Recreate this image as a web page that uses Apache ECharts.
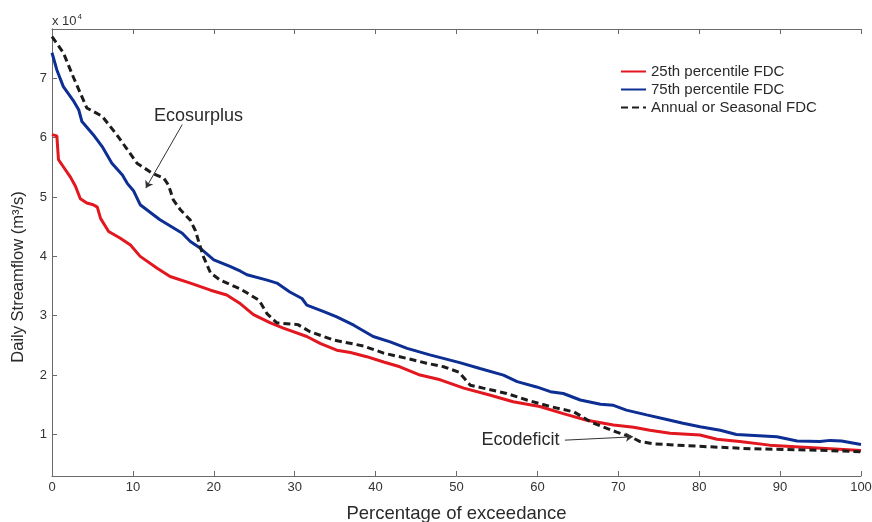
<!DOCTYPE html>
<html>
<head>
<meta charset="utf-8">
<script src="https://cdn.jsdelivr.net/npm/echarts@6/dist/echarts.min.js"></script>
<style>
html,body{margin:0;padding:0;background:#fff;}
#c{width:872px;height:522px;}
</style>
</head>
<body>
<div id="c"></div>
<script>
// ---- data (percentage of exceedance, daily streamflow m3/s) ----
const p25X = [0,0.6,0.8,1.4,2.3,2.9,3.5,4.3,5.1,5.6,6.0,7.0,8.4,9.7,10.9,13.0,14.6,17.1,19.6,21.6,23.3,24.9,27.0,28.6,31.5,33.2,35.2,36.9,38.9,41.0,43.0,45.5,48.0,50.9,54.2,57.0,60.3,63.2,66.1,69.4,71.9,73.9,76.4,80.1,82.2,85.0,88.7,92.4,96.2,100];
const p25Y = [60500,60300,56300,55100,53300,51800,49700,49000,48700,48300,46400,44200,43100,41900,40000,38000,36600,35500,34300,33500,32000,30200,28800,27900,26500,25300,24200,23800,23100,22200,21400,20000,19200,17800,16600,15500,14700,13500,12400,11600,11200,10700,10200,9900,9200,8800,8200,7900,7600,7300];

const p75X = [0,0.6,1.4,2.7,3.3,3.7,5.1,6.2,7.4,8.7,9.3,10.1,10.9,13.3,16.1,17.1,18.3,20.0,22.0,23.3,24.1,26.6,27.8,29.4,30.9,31.5,33.6,35.2,37.3,39.7,41.8,43.9,46.7,50.4,52.9,55.8,57.5,59.9,61.6,63.2,65.3,67.8,69.4,71.0,73.5,76.4,78.0,80.1,82.6,84.6,89.6,92.1,94.9,96.2,97.6,100];
const p75Y = [74300,71400,68600,66100,64700,62700,60500,58500,55700,53700,52300,51000,48700,46200,43900,42500,41400,39400,38300,37500,36900,36000,35500,34000,32900,31800,30700,29800,28400,26500,25600,24500,23400,22100,21100,20000,18900,18000,17200,16900,15800,15100,14900,14100,13300,12400,11900,11300,10700,10000,9600,8900,8800,9000,8900,8300];

const annX = [0,1.4,2.7,4.3,6.2,8.0,10.5,12.4,13.8,14.4,15.0,15.9,17.1,17.7,18.7,19.6,20.8,23.3,25.6,26.6,27.8,30.4,31.9,34.8,38.5,41.0,43.9,46.3,48.4,50.3,51.7,53.3,56.2,58.7,61.6,64.5,66.9,69.8,71.5,72.7,74.5,80,86.3,94.5,100];
const annY = [77000,74300,70000,65000,63600,60500,55700,54000,53200,52000,49500,47800,46100,44400,40000,37200,36000,34500,32600,30300,28800,28500,27300,25900,24900,23700,22800,22000,21400,20500,18300,17800,16900,15800,14700,13800,11900,10400,9600,8800,8400,8000,7600,7350,7100];

const seriesNames = ['25th percentile FDC','75th percentile FDC','Annual or Seasonal FDC'];
const xTicks = [0,10,20,30,40,50,60,70,80,90,100];
const yTicks = [10000,20000,30000,40000,50000,60000,70000];

// annotations (data coordinates)
const annoLabels = ['Ecosurplus','Ecodeficit'];
const annoTextAt = [[18.1,63700],[57.9,9040]];
const annoFrom = [[16.1,62200],[63.4,9040]];
const annoTo = [[11.6,51500],[71.8,9600]];

const zip = (xs, ys) => xs.map((x, i) => [x, ys[i]]);
const FONT = '"Liberation Sans", Arial, sans-serif';
const AX = '#6a6a6a';

const chart = echarts.init(document.getElementById('c'), null, {renderer: 'canvas'});
const option = {
  animation: false,
  backgroundColor: '#ffffff',
  textStyle: {fontFamily: FONT},
  grid: {left: 52, right: 11, top: 29, bottom: 46, containLabel: false, outerBoundsMode: 'none'},
  legend: {
    data: seriesNames,
    orient: 'vertical',
    left: 615, top: 59,
    itemWidth: 25, itemHeight: 14, itemGap: 3,
    itemStyle: {opacity: 0},
    textStyle: {fontFamily: FONT, fontSize: 15, color: '#2a2a2a', lineHeight: 14}
  },
  xAxis: [{
    type: 'value', min: 0, max: 100, interval: 10,
    name: 'Percentage of exceedance', nameLocation: 'middle', nameGap: 28,
    nameTextStyle: {fontFamily: FONT, fontSize: 18.5, color: '#2a2a2a'},
    axisLine: {show: true, lineStyle: {color: AX, width: 1}},
    axisTick: {show: true, inside: true, length: 5, lineStyle: {color: AX}},
    axisLabel: {fontFamily: FONT, fontSize: 13, color: '#333', margin: 5},
    splitLine: {show: false}
  }, {
    type: 'value', position: 'top', min: 0, max: 100, interval: 10,
    axisLine: {show: true, lineStyle: {color: AX, width: 1}},
    axisTick: {show: true, inside: true, length: 5, lineStyle: {color: AX}},
    axisLabel: {show: false},
    splitLine: {show: false}
  }],
  yAxis: [{
    type: 'value', min: 3000, max: 78300,
    axisLine: {show: true, lineStyle: {color: AX, width: 1}},
    axisTick: {show: true, inside: true, length: 5, lineStyle: {color: AX}, customValues: yTicks},
    axisLabel: {fontFamily: FONT, fontSize: 13, color: '#333', margin: 5,
      customValues: yTicks, formatter: v => String(Math.round(v / 10000))},
    splitLine: {show: false}
  }, {
    type: 'value', position: 'right', min: 3000, max: 78300,
    axisLine: {show: true, lineStyle: {color: AX, width: 1}},
    axisTick: {show: false}, axisLabel: {show: false}, splitLine: {show: false}
  }],
  series: [{
    name: seriesNames[0], type: 'line', data: zip(p25X, p25Y),
    showSymbol: false, symbol: 'none', color: '#e2171f',
    lineStyle: {color: '#e2171f', width: 3}
  }, {
    name: seriesNames[1], type: 'line', data: zip(p75X, p75Y),
    showSymbol: false, symbol: 'none', color: '#0d2e93',
    lineStyle: {color: '#0d2e93', width: 3}
  }, {
    name: seriesNames[2], type: 'line', data: zip(annX, annY),
    showSymbol: false, symbol: 'none', color: '#1c1c1c',
    lineStyle: {color: '#1c1c1c', width: 3, type: [7, 4]},
    markLine: {
      silent: true, animation: false,
      symbol: ['none', 'arrow'], symbolSize: 7,
      lineStyle: {color: '#333', width: 1, type: 'solid'},
      label: {show: false},
      emphasis: {disabled: true},
      data: annoFrom.map((f, i) => [{coord: f}, {coord: annoTo[i]}])
    }
  }]
};
chart.setOption(option);

const graphics = [{
  type: 'text', left: 52, top: 13,
  style: {
    text: '{a|x 10}{s|4}',
    rich: {
      a: {fontFamily: FONT, fontSize: 13, fill: '#333', verticalAlign: 'bottom'},
      s: {fontFamily: FONT, fontSize: 8, fill: '#333', verticalAlign: 'top', padding: [0, 0, 7, 1]}
    }
  }
}, {
  type: 'text', x: 18, y: 277, rotation: Math.PI / 2,
  style: {text: 'Daily Streamflow (m³/s)', fontFamily: FONT, fontSize: 16.5, fill: '#2a2a2a',
    textAlign: 'center', textVerticalAlign: 'middle'}
}];
annoLabels.forEach((t, i) => {
  const pt = chart.convertToPixel({xAxisIndex: 0, yAxisIndex: 0}, annoTextAt[i]);
  graphics.push({
    type: 'text', x: pt[0], y: pt[1],
    style: {text: t, fontFamily: FONT, fontSize: 18, fill: '#2a2a2a',
      textAlign: 'center', textVerticalAlign: 'middle'}
  });
});
chart.setOption({graphic: graphics});
</script>
</body>
</html>
